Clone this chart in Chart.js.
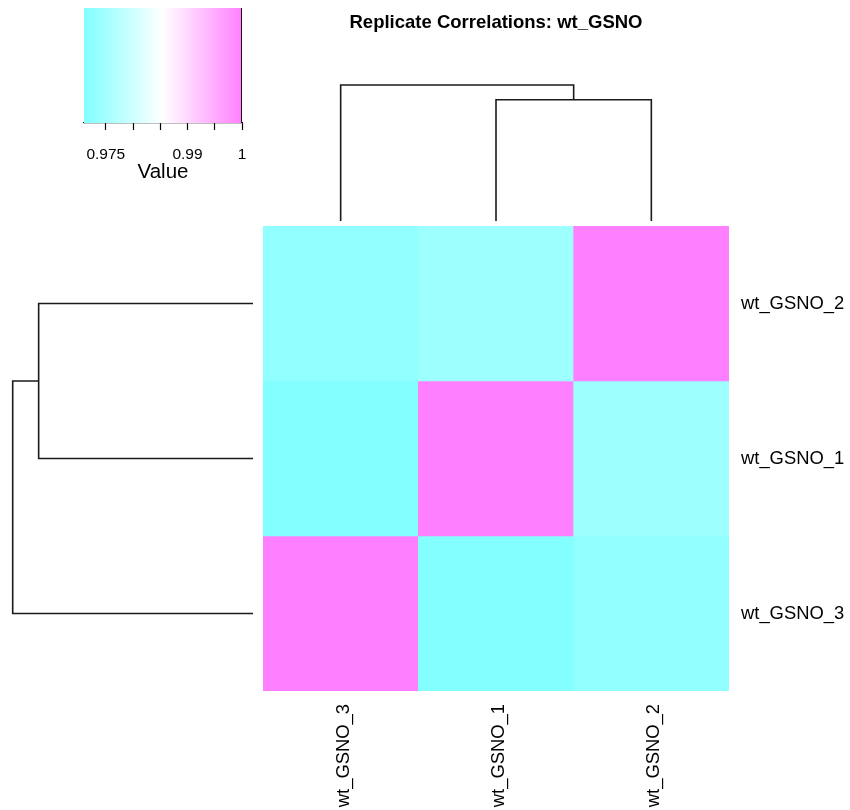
<!DOCTYPE html>
<html><head><meta charset="utf-8">
<script src="https://cdn.jsdelivr.net/npm/chart.js@4"></script>
<style>
html,body{margin:0;padding:0;background:#fff;}
#wrap{position:relative;width:850px;height:810px;overflow:hidden;background:#fff;}
.c{position:absolute;}
</style></head><body>
<div id="wrap">
 <div class="c" style="left:0;top:0;width:260px;height:200px"><canvas id="key"></canvas></div>
 <div class="c" style="left:263px;top:0;width:466px;height:226px"><canvas id="topd"></canvas></div>
 <div class="c" style="left:0;top:226px;width:263px;height:465px"><canvas id="leftd"></canvas></div>
 <div class="c" style="left:263px;top:226px;width:587px;height:584px"><canvas id="heat"></canvas></div>
</div>
<script>
// ---------- data ----------
const chartTitle = 'Replicate Correlations: wt_GSNO';
const colLabels = ['wt_GSNO_3', 'wt_GSNO_1', 'wt_GSNO_2'];      // left to right
const rowLabels = ['wt_GSNO_2', 'wt_GSNO_1', 'wt_GSNO_3'];      // top to bottom
const rowGSNO2 = [0.9729, 0.9744, 1.0];
const rowGSNO1 = [0.9713, 1.0, 0.9744];
const rowGSNO3 = [1.0, 0.9713, 0.9729];
const keyMin = 0.971;
const keyMax = 1.0;
const keyTicks = [0.975, 0.98, 0.985, 0.99, 0.995, 1];
const keyTickLabels = ['0.975', '', '', '0.99', '', '1'];
const mergePairs = [['wt_GSNO_1', 'wt_GSNO_2'], ['wt_GSNO_3', 'm1']];
const mergeHeights = [0.0256, 0.0287];

// ---------- helpers ----------
Chart.defaults.font.family = '"Liberation Sans", Arial, Helvetica, sans-serif';
Chart.defaults.color = '#000';
const LINE = '#1a1a1a';

function valColor(v) {
  const t = Math.max(0, Math.min(1, (v - keyMin) / (keyMax - keyMin)));
  let r, g, b;
  if (t < 0.5) { const s = t / 0.5; r = 128 + 127 * s; g = 255; b = 255; }
  else { const s = (t - 0.5) / 0.5; r = 255; g = 255 - 127 * s; b = 255; }
  return `rgb(${Math.round(r)},${Math.round(g)},${Math.round(b)})`;
}

function dendroSegments(posOf) {
  const pos = {}, ht = {};
  const segs = [];
  mergePairs.forEach((pair, k) => {
    const [a, b] = pair;
    const pa = a in pos ? pos[a] : posOf(a), ha = a in ht ? ht[a] : 0;
    const pb = b in pos ? pos[b] : posOf(b), hb = b in ht ? ht[b] : 0;
    const h = mergeHeights[k];
    segs.push([[pa, ha], [pa, h], [pb, h], [pb, hb]]);
    pos['m' + (k + 1)] = (pa + pb) / 2;
    ht['m' + (k + 1)] = h;
  });
  return segs;
}

const noPlugins = { legend: { display: false }, tooltip: { enabled: false } };

// ---------- color key ----------
new Chart(document.getElementById('key'), {
  type: 'bar',
  data: {
    labels: ['key'],
    datasets: [{
      data: [[keyMin, keyMax]],
      backgroundColor: (ctx) => {
        const ch = ctx.chart;
        if (!ch.chartArea || !ch.scales.x) return valColor(keyMin);
        const x0 = ch.scales.x.getPixelForValue(keyMin), x1 = ch.scales.x.getPixelForValue(keyMax);
        const g = ch.ctx.createLinearGradient(x0, 0, x1, 0);
        g.addColorStop(0, valColor(keyMin));
        g.addColorStop(0.5, valColor((keyMin + keyMax) / 2));
        g.addColorStop(1, valColor(keyMax));
        return g;
      },
      borderColor: '#000',
      borderWidth: { top: 0, right: 1.2, bottom: 0, left: 0 },
      borderSkipped: false,
      categoryPercentage: 1, barPercentage: 1
    }]
  },
  options: {
    indexAxis: 'y', animation: false, responsive: true, maintainAspectRatio: false,
    layout: { padding: { left: 84, right: 18, top: 8, bottom: 0 } },
    plugins: noPlugins,
    scales: {
      y: { type: 'category', display: false },
      x: {
        type: 'linear', min: keyMin, max: keyMax, position: 'bottom',
        afterBuildTicks: (s) => { s.ticks = keyTicks.map(v => ({ value: v })); },
        afterFit: (s) => { s.height = 77; s.paddingLeft = 0; s.paddingRight = 0; },
        ticks: { callback: (v, i) => keyTickLabels[i], font: { size: 15.5 }, color: '#000', padding: 15, maxRotation: 0, autoSkip: false },
        grid: { display: true, drawOnChartArea: false, tickLength: 7, tickColor: '#000', tickWidth: 1.2 },
        border: { display: true, color: '#000', width: 1.2 },
        title: { display: true, text: 'Value', font: { size: 20.5 }, color: '#000', padding: { top: 0, bottom: 15 } }
      }
    }
  }
});

// ---------- top dendrogram ----------
const topSegs = dendroSegments(name => colLabels.indexOf(name) + 0.5);
new Chart(document.getElementById('topd'), {
  type: 'scatter',
  data: {
    datasets: topSegs.map(s => ({
      data: s.map(p => ({ x: p[0], y: p[1] })),
      showLine: true, borderColor: LINE, borderWidth: 1.6, pointRadius: 0, fill: false, clip: false, tension: 0
    }))
  },
  options: {
    animation: false, responsive: true, maintainAspectRatio: false,
    layout: { padding: { left: 0, right: 0, top: 0, bottom: 5 } },
    plugins: {
      legend: { display: false }, tooltip: { enabled: false },
      title: { display: true, text: chartTitle, color: '#000', font: { size: 18.5, weight: 'bold' }, padding: { top: 12, bottom: 50.8 } }
    },
    scales: {
      x: { type: 'linear', min: 0, max: 3, display: false },
      y: { type: 'linear', min: 0, max: mergeHeights[mergeHeights.length - 1], display: false }
    }
  }
});

// ---------- left dendrogram ----------
const leftSegs = dendroSegments(name => 2.5 - rowLabels.indexOf(name));
new Chart(document.getElementById('leftd'), {
  type: 'scatter',
  data: {
    datasets: leftSegs.map(s => ({
      data: s.map(p => ({ x: p[1], y: p[0] })),
      showLine: true, borderColor: LINE, borderWidth: 1.6, pointRadius: 0, fill: false, clip: false, tension: 0
    }))
  },
  options: {
    animation: false, responsive: true, maintainAspectRatio: false,
    layout: { padding: { left: 12.7, right: 10, top: 0, bottom: 0 } },
    plugins: noPlugins,
    scales: {
      x: { type: 'linear', min: 0, max: mergeHeights[mergeHeights.length - 1], reverse: true, display: false },
      y: { type: 'linear', min: 0, max: 3, display: false }
    }
  }
});

// ---------- heatmap ----------
const heatRows = [rowGSNO2, rowGSNO1, rowGSNO3];
new Chart(document.getElementById('heat'), {
  type: 'bar',
  data: {
    labels: colLabels,
    datasets: heatRows.map((vals, i) => ({
      label: rowLabels[i],
      data: vals.map(() => [2 - i, 3 - i]),
      backgroundColor: vals.map(valColor),
      borderWidth: 0, grouped: false, categoryPercentage: 1, barPercentage: 1
    }))
  },
  options: {
    animation: false, responsive: true, maintainAspectRatio: false,
    layout: { padding: 0 },
    plugins: noPlugins,
    scales: {
      x: {
        type: 'category', offset: true, position: 'bottom',
        grid: { display: false, drawTicks: false }, border: { display: false },
        afterFit: (s) => { s.height = 119; s.paddingLeft = 0; s.paddingRight = 0; },
        ticks: { minRotation: 90, maxRotation: 90, autoSkip: false, padding: 13, labelOffset: 3, font: { size: 18.4 }, color: '#000' }
      },
      y: {
        type: 'linear', position: 'right', min: 0, max: 3,
        grid: { display: false, drawTicks: false }, border: { display: false },
        afterBuildTicks: (s) => { s.ticks = [{ value: 0.5 }, { value: 1.5 }, { value: 2.5 }]; },
        afterFit: (s) => { s.width = 121; s.paddingTop = 0; s.paddingBottom = 0; },
        ticks: { callback: (v) => rowLabels[2 - Math.floor(v)], padding: 12, font: { size: 18.4 }, color: '#000' }
      }
    }
  }
});
</script>
</body></html>
